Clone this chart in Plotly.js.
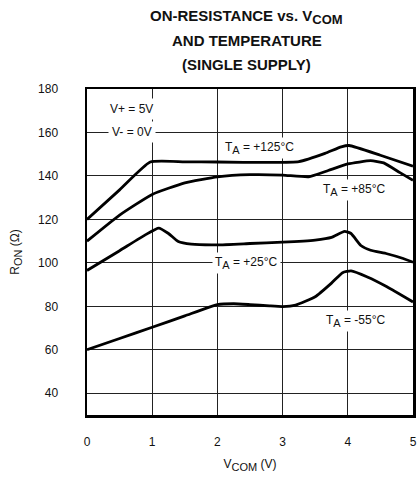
<!DOCTYPE html>
<html>
<head>
<meta charset="utf-8">
<script src="https://cdn.plot.ly/plotly-3.0.1.min.js"></script>
<style>html,body{margin:0;padding:0;background:#fff;}#chart{width:419px;height:479px;}</style>
</head>
<body>
<div id="chart"></div>
<script>
// Data
var xM55 = [0, 0.5, 1, 1.5, 2, 2.25, 2.5, 2.8, 3, 3.2, 3.5, 3.75, 3.92, 4.05, 4.3, 4.6, 5];
var yM55 = [60, 65.2, 70.4, 75.6, 80.8, 81.2, 80.8, 80.2, 79.9, 80.6, 84.4, 90.7, 95.5, 96.3, 93.5, 89, 82];

var x25 = [0, 0.5, 0.9, 1.1, 1.25, 1.4, 1.6, 2, 2.5, 3, 3.5, 3.75, 3.95, 4.05, 4.2, 4.35, 4.6, 4.85, 5];
var y25 = [96.5, 105.6, 113, 116, 113.5, 109.8, 108.6, 108.3, 108.9, 109.5, 110.5, 111.7, 114.5, 113.5, 108, 105.8, 104.2, 102, 100.3];

var x85 = [0, 0.5, 1, 1.5, 2, 2.5, 3, 3.4, 3.7, 4, 4.35, 4.55, 4.8, 5];
var y85 = [110, 122, 131.5, 136.8, 139.6, 140.6, 140.4, 139.6, 142.5, 145.5, 147, 146, 141.5, 138];

var x125 = [0, 0.5, 0.97, 1.5, 2, 2.8, 3.25, 3.65, 3.9, 4.02, 4.5, 5];
var y125 = [120, 133.6, 146.4, 146.5, 146.4, 146.2, 146.6, 150.4, 153.4, 154, 149.5, 144.5];

var xTicks = [0, 1, 2, 3, 4, 5];
var yTicks = [40, 60, 80, 100, 120, 140, 160, 180];

var titleLines = ["ON-RESISTANCE vs. V<sub>COM</sub>", "AND TEMPERATURE", "(SINGLE SUPPLY)"];
var curveLabels = ["T<sub>A</sub> = +125°C", "T<sub>A</sub> = +85°C", "T<sub>A</sub> = +25°C", "T<sub>A</sub> = -55°C"];
var supplyLabels = ["V+ = 5V", "V- = 0V"];

var lineStyle = {color: '#000', width: 2.8, shape: 'spline', smoothing: 0.45};
function tr(x, y) { return {x: x, y: y, type: 'scatter', mode: 'lines', line: lineStyle, hoverinfo: 'skip', showlegend: false}; }

var data = [tr(x125, y125), tr(x85, y85), tr(x25, y25), tr(xM55, yM55)];

var fam = 'Liberation Sans, Arial, sans-serif';
var font = {family: fam, color: '#111', size: 12};
function bigSub(s, px) { return s.replace(/<sub>(.*?)<\/sub>/g, '<sub><span style="font-size:' + px + 'px">$1</span></sub>'); }

var annots = [];
var titleY = [1.222, 1.148, 1.074];
titleLines.forEach(function (t, i) {
  annots.push({text: '<b>' + bigSub(t, 13) + '</b>', xref: 'paper', yref: 'paper', x: 0.49, y: titleY[i],
    xanchor: 'center', yanchor: 'middle', showarrow: false,
    font: {family: fam, size: 15, color: '#111'}});
});
var labelPos = [[2.65, 152.7], [4.11, 133.5], [2.45, 100], [4.13, 73.4]];
curveLabels.forEach(function (t, i) {
  annots.push({text: bigSub(t, 11), x: labelPos[i][0], y: labelPos[i][1], xref: 'x', yref: 'y',
    showarrow: false, bgcolor: '#fff', borderpad: 2, font: font});
});
var supPos = [[0.69, 171], [0.69, 160]];
supplyLabels.forEach(function (t, i) {
  annots.push({text: t, x: supPos[i][0], y: supPos[i][1], xref: 'x', yref: 'y',
    showarrow: false, bgcolor: '#fff', borderpad: 3, font: font});
});

var layout = {
  width: 419, height: 479,
  margin: {l: 87, r: 6, t: 89, b: 64},
  paper_bgcolor: '#fff', plot_bgcolor: '#fff',
  font: font,
  showlegend: false,
  xaxis: {
    range: [0, 5], tickvals: xTicks, ticktext: xTicks.map(String),
    showgrid: true, gridcolor: '#222', gridwidth: 1, zeroline: false,
    showline: true, mirror: true, linecolor: '#000', linewidth: 2.5,
    ticks: 'outside', ticklen: 14, tickcolor: 'rgba(0,0,0,0)',
    title: {text: bigSub('V<sub>COM</sub> (V)', 11), font: font, standoff: 12}
  },
  yaxis: {
    range: [30, 180], tickvals: yTicks, ticktext: yTicks.map(String),
    showgrid: true, gridcolor: '#222', gridwidth: 1, zeroline: false,
    showline: true, mirror: true, linecolor: '#000', linewidth: 2.5,
    ticks: 'outside', ticklen: 24, tickcolor: 'rgba(0,0,0,0)',
    title: {text: bigSub('R<sub>ON</sub> (Ω)', 11), font: font, standoff: 16}
  },
  annotations: annots
};

Plotly.newPlot('chart', data, layout, {staticPlot: true, displayModeBar: false});
</script>
</body>
</html>
